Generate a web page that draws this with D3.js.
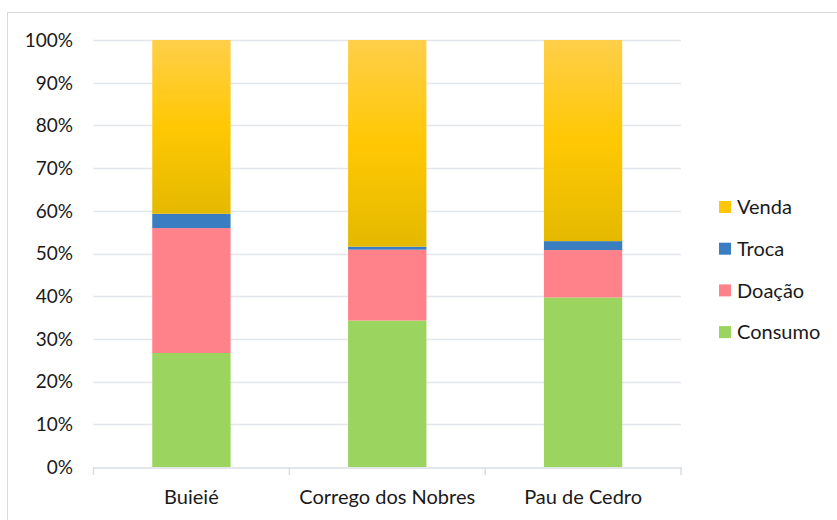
<!DOCTYPE html>
<html>
<head>
<meta charset="utf-8">
<script src="https://cdn.jsdelivr.net/npm/d3@7"></script>
<style>
  body { margin: 0; background: #fff; }
  svg { display: block; font-family: Lato, "Open Sans", sans-serif; }
</style>
</head>
<body>
<div id="chart"></div>
<script>
// dados
const categories = ['Buieié', 'Corrego dos Nobres', 'Pau de Cedro'];
const seriesNames = ['Consumo', 'Doação', 'Troca', 'Venda'];
const consumo = [26.7, 34.3, 39.7];
const doacao = [29.25, 16.6, 11.1];
const troca = [3.35, 0.7, 2.1];
const venda = [40.7, 48.4, 47.1];
const yTicks = [0, 10, 20, 30, 40, 50, 60, 70, 80, 90, 100];

const colors = {
    'Consumo': '#9bd55f',
    'Doação': '#ff8189',
    'Troca': '#3a7dc1',
    'Venda': 'url(#vendaGrad)'
};
const legendColors = {
    'Consumo': '#9bd55f',
    'Doação': '#ff8189',
    'Troca': '#3a7dc1',
    'Venda': '#ffc60a'
};

const width = 837, height = 520;
const margin = { left: 93.5, right: 156, top: 40, bottom: 53 };

const svg = d3.select('#chart').append('svg')
    .attr('width', width)
    .attr('height', height);

// gradiente da série Venda
const grad = svg.append('defs').append('linearGradient')
    .attr('id', 'vendaGrad')
    .attr('x1', 0).attr('y1', 0).attr('x2', 0).attr('y2', 1);
grad.append('stop').attr('offset', '0%').attr('stop-color', '#ffcf4a');
grad.append('stop').attr('offset', '50%').attr('stop-color', '#ffc803');
grad.append('stop').attr('offset', '100%').attr('stop-color', '#e4b900');

// moldura
svg.append('rect')
    .attr('x', 7.5).attr('y', 12.5)
    .attr('width', 900).attr('height', 600)
    .attr('fill', 'none')
    .attr('stroke', '#d9d9d9')
    .attr('stroke-width', 1);

const x = d3.scaleBand()
    .domain(categories)
    .range([margin.left, width - margin.right])
    .paddingInner(0.6)
    .paddingOuter(0.3);

const y = d3.scaleLinear()
    .domain([0, 100])
    .range([height - margin.bottom, margin.top]);

// grade
svg.append('g')
    .selectAll('line')
    .data(yTicks.filter(d => d > 0))
    .enter()
    .append('line')
    .attr('x1', margin.left)
    .attr('x2', width - margin.right)
    .attr('y1', d => Math.round(y(d)) + 0.5)
    .attr('y2', d => Math.round(y(d)) + 0.5)
    .attr('stroke', '#e3e6ea')
    .attr('stroke-width', 1.5);

// rótulos do eixo Y
svg.append('g')
    .selectAll('text')
    .data(yTicks)
    .enter()
    .append('text')
    .attr('x', 73)
    .attr('y', d => y(d))
    .attr('dy', '0.36em')
    .attr('text-anchor', 'end')
    .attr('font-size', 19)
    .attr('fill', '#1a1a1a')
    .text(d => d + '%');

// barras empilhadas
const rows = categories.map((c, i) => ({
    cat: c,
    'Consumo': consumo[i],
    'Doação': doacao[i],
    'Troca': troca[i],
    'Venda': venda[i]
}));
const stacked = d3.stack().keys(seriesNames)(rows);

svg.append('g')
    .selectAll('g')
    .data(stacked)
    .enter()
    .append('g')
    .attr('fill', d => colors[d.key])
    .selectAll('rect')
    .data(d => d)
    .enter()
    .append('rect')
    .attr('x', d => x(d.data.cat))
    .attr('width', x.bandwidth())
    .attr('y', d => y(d[1]))
    .attr('height', d => y(d[0]) - y(d[1]));

// eixo X
const xAxis = d3.axisBottom(x).tickSize(0).tickFormat(d => d);
const gx = svg.append('g')
    .attr('transform', `translate(0,${y(0) + 0.5})`)
    .call(xAxis);
gx.select('.domain').attr('stroke', '#d9dde2').attr('stroke-width', 1.5);
gx.selectAll('text')
    .attr('font-size', 20)
    .attr('font-family', 'Lato, sans-serif')
    .attr('fill', '#1a1a1a')
    .attr('dy', 0)
    .attr('y', 36);

// marcas entre categorias
const step = x.step();
const bounds = [margin.left, ...categories.map(c => x(c) + x.bandwidth() + (step - x.bandwidth()) / 2)];
svg.append('g')
    .selectAll('line')
    .data(bounds)
    .enter()
    .append('line')
    .attr('x1', d => d)
    .attr('x2', d => d)
    .attr('y1', y(0))
    .attr('y2', y(0) + 8)
    .attr('stroke', '#d9dde2')
    .attr('stroke-width', 1.5);

// legenda
const legendOrder = ['Venda', 'Troca', 'Doação', 'Consumo'];
const legend = svg.append('g')
    .selectAll('g')
    .data(legendOrder)
    .enter()
    .append('g')
    .attr('transform', (d, i) => `translate(719,${207 + i * 41.7})`);
legend.append('rect')
    .attr('x', 0).attr('y', -6)
    .attr('width', 12).attr('height', 12)
    .attr('fill', d => legendColors[d]);
legend.append('text')
    .attr('x', 18)
    .attr('y', 0)
    .attr('dy', '0.36em')
    .attr('font-size', 20)
    .attr('fill', '#1a1a1a')
    .text(d => d);
</script>
</body>
</html>
